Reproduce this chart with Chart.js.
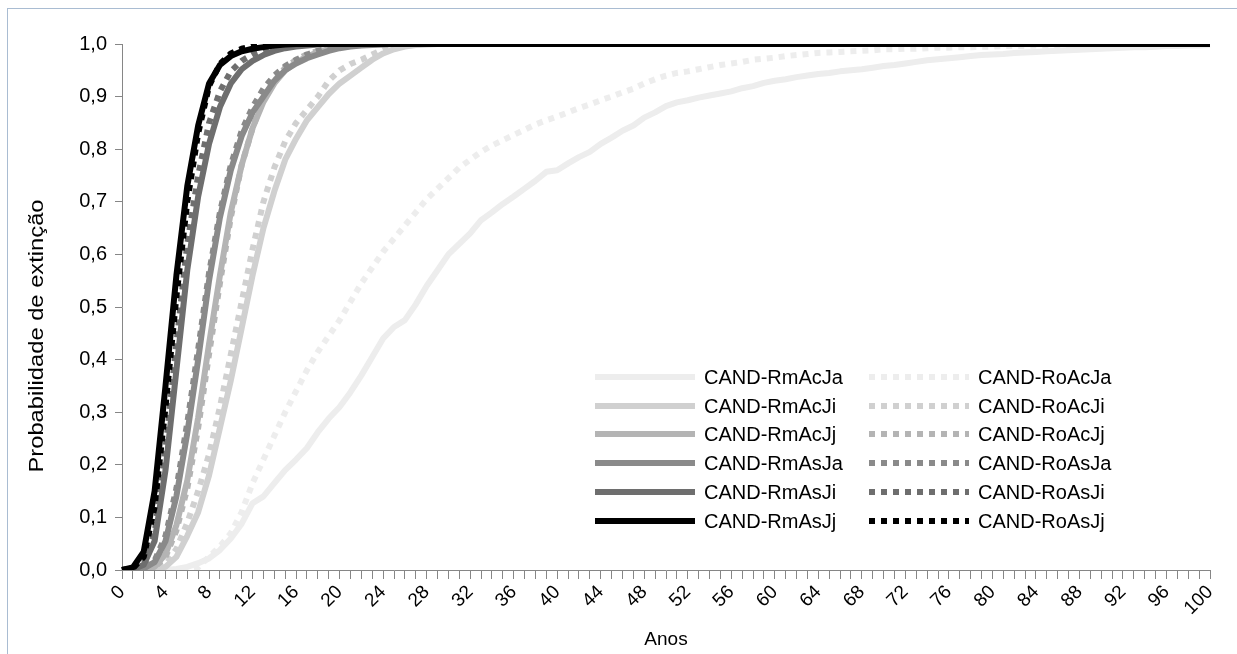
<!DOCTYPE html>
<html>
<head>
<meta charset="utf-8">
<script src="https://cdn.jsdelivr.net/npm/chart.js@4.4.1/dist/chart.umd.min.js"></script>
<style>
  html, body { margin: 0; padding: 0; background: #ffffff; }
  #wrap { position: relative; width: 1237px; height: 654px; }
</style>
</head>
<body>
<div id="wrap"><canvas id="chart" width="1237" height="654"></canvas></div>
<script>
// Years on the horizontal axis (0..100)
const years = [
  0, 1, 2, 3, 4, 5, 6, 7, 8, 9,
  10, 11, 12, 13, 14, 15, 16, 17, 18, 19,
  20, 21, 22, 23, 24, 25, 26, 27, 28, 29,
  30, 31, 32, 33, 34, 35, 36, 37, 38, 39,
  40, 41, 42, 43, 44, 45, 46, 47, 48, 49,
  50, 51, 52, 53, 54, 55, 56, 57, 58, 59,
  60, 61, 62, 63, 64, 65, 66, 67, 68, 69,
  70, 71, 72, 73, 74, 75, 76, 77, 78, 79,
  80, 81, 82, 83, 84, 85, 86, 87, 88, 89,
  90, 91, 92, 93, 94, 95, 96, 97, 98, 99,
  100
];

// Years that carry a printed label
const labelledYears = [0, 4, 8, 12, 16, 20, 24, 28, 32, 36, 40, 44, 48, 52, 56, 60, 64, 68, 72, 76, 80, 84, 88, 92, 96, 100];

// Axis titles
const xTitle = 'Anos';
const yTitle = 'Probabilidade de extinção';

// Cumulative extinction probability per scenario
const rmAcJa = [
  0, 0, 0, 0, 0, 0.002, 0.006, 0.013, 0.022, 0.038,
  0.06, 0.088, 0.127, 0.14, 0.165, 0.19, 0.21, 0.232, 0.262, 0.288,
  0.31, 0.338, 0.37, 0.405, 0.44, 0.462, 0.475, 0.505, 0.54, 0.57,
  0.6, 0.62, 0.64, 0.665, 0.68, 0.696, 0.71, 0.725, 0.74, 0.757,
  0.76, 0.773, 0.785, 0.795, 0.81, 0.822, 0.835, 0.845, 0.86, 0.87,
  0.882, 0.889, 0.893, 0.898, 0.902, 0.906, 0.91, 0.916, 0.92, 0.926,
  0.93, 0.933, 0.937, 0.94, 0.943, 0.945, 0.948, 0.95, 0.952, 0.955,
  0.958, 0.96, 0.963, 0.966, 0.969, 0.971, 0.973, 0.975, 0.977, 0.979,
  0.98, 0.981, 0.983, 0.984, 0.985, 0.986, 0.987, 0.988, 0.989, 0.99,
  0.991, 0.992, 0.993, 0.994, 0.994, 0.995, 0.996, 0.996, 0.997, 0.997,
  0.998
];
const roAcJa = [
  0, 0, 0, 0, 0, 0, 0, 0.005, 0.025, 0.045,
  0.07, 0.11, 0.165, 0.21, 0.255, 0.3, 0.34, 0.38, 0.415, 0.445,
  0.475, 0.51, 0.545, 0.575, 0.605, 0.63, 0.655, 0.68, 0.705, 0.725,
  0.745, 0.765, 0.78, 0.795, 0.807, 0.817, 0.827, 0.837, 0.847, 0.855,
  0.862, 0.87, 0.878, 0.885, 0.893, 0.9, 0.908, 0.915, 0.925, 0.933,
  0.94, 0.945, 0.948, 0.952, 0.956, 0.96, 0.963, 0.966, 0.97, 0.972,
  0.974, 0.977, 0.979, 0.981, 0.983, 0.984, 0.985, 0.986, 0.987, 0.988,
  0.99, 0.99, 0.991, 0.991, 0.992, 0.993, 0.993, 0.994, 0.994, 0.995,
  0.995, 0.996, 0.996, 0.996, 0.997, 0.997, 0.998, 0.998, 0.998, 0.999,
  0.999, 0.999, 0.999, 1, 1, 1, 1, 1, 1, 1,
  1
];
const rmAcJi = [
  0, 0, 0, 0.002, 0.006, 0.025, 0.065, 0.11, 0.18, 0.27,
  0.36, 0.46, 0.56, 0.65, 0.72, 0.78, 0.82, 0.855, 0.88, 0.905,
  0.925, 0.94, 0.955, 0.97, 0.982, 0.99, 0.995, 0.998, 0.999, 1,
  1, 1, 1, 1, 1, 1, 1, 1, 1, 1,
  1, 1, 1, 1, 1, 1, 1, 1, 1, 1,
  1, 1, 1, 1, 1, 1, 1, 1, 1, 1,
  1, 1, 1, 1, 1, 1, 1, 1, 1, 1,
  1, 1, 1, 1, 1, 1, 1, 1, 1, 1,
  1, 1, 1, 1, 1, 1, 1, 1, 1, 1,
  1, 1, 1, 1, 1, 1, 1, 1, 1, 1,
  1
];
const roAcJi = [
  0, 0, 0, 0.003, 0.01, 0.04, 0.09, 0.15, 0.22, 0.31,
  0.41, 0.51, 0.61, 0.7, 0.765, 0.815, 0.85, 0.875, 0.9, 0.93,
  0.95, 0.962, 0.97, 0.98, 0.99, 0.995, 0.998, 0.999, 1, 1,
  1, 1, 1, 1, 1, 1, 1, 1, 1, 1,
  1, 1, 1, 1, 1, 1, 1, 1, 1, 1,
  1, 1, 1, 1, 1, 1, 1, 1, 1, 1,
  1, 1, 1, 1, 1, 1, 1, 1, 1, 1,
  1, 1, 1, 1, 1, 1, 1, 1, 1, 1,
  1, 1, 1, 1, 1, 1, 1, 1, 1, 1,
  1, 1, 1, 1, 1, 1, 1, 1, 1, 1,
  1
];
const rmAcJj = [
  0, 0, 0.001, 0.006, 0.03, 0.085, 0.17, 0.29, 0.43, 0.56,
  0.68, 0.77, 0.84, 0.89, 0.925, 0.95, 0.965, 0.976, 0.984, 0.99,
  0.994, 0.996, 0.998, 0.999, 1, 1, 1, 1, 1, 1,
  1, 1, 1, 1, 1, 1, 1, 1, 1, 1,
  1, 1, 1, 1, 1, 1, 1, 1, 1, 1,
  1, 1, 1, 1, 1, 1, 1, 1, 1, 1,
  1, 1, 1, 1, 1, 1, 1, 1, 1, 1,
  1, 1, 1, 1, 1, 1, 1, 1, 1, 1,
  1, 1, 1, 1, 1, 1, 1, 1, 1, 1,
  1, 1, 1, 1, 1, 1, 1, 1, 1, 1,
  1
];
const roAcJj = [
  0, 0, 0.001, 0.005, 0.025, 0.075, 0.155, 0.27, 0.41, 0.545,
  0.67, 0.77, 0.84, 0.895, 0.93, 0.955, 0.97, 0.98, 0.987, 0.992,
  0.995, 0.997, 0.999, 1, 1, 1, 1, 1, 1, 1,
  1, 1, 1, 1, 1, 1, 1, 1, 1, 1,
  1, 1, 1, 1, 1, 1, 1, 1, 1, 1,
  1, 1, 1, 1, 1, 1, 1, 1, 1, 1,
  1, 1, 1, 1, 1, 1, 1, 1, 1, 1,
  1, 1, 1, 1, 1, 1, 1, 1, 1, 1,
  1, 1, 1, 1, 1, 1, 1, 1, 1, 1,
  1, 1, 1, 1, 1, 1, 1, 1, 1, 1,
  1
];
const rmAsJa = [
  0, 0, 0.003, 0.015, 0.055, 0.14, 0.26, 0.4, 0.55, 0.67,
  0.76, 0.825, 0.87, 0.9, 0.93, 0.95, 0.963, 0.973, 0.98, 0.987,
  0.992, 0.995, 0.997, 0.998, 0.999, 1, 1, 1, 1, 1,
  1, 1, 1, 1, 1, 1, 1, 1, 1, 1,
  1, 1, 1, 1, 1, 1, 1, 1, 1, 1,
  1, 1, 1, 1, 1, 1, 1, 1, 1, 1,
  1, 1, 1, 1, 1, 1, 1, 1, 1, 1,
  1, 1, 1, 1, 1, 1, 1, 1, 1, 1,
  1, 1, 1, 1, 1, 1, 1, 1, 1, 1,
  1, 1, 1, 1, 1, 1, 1, 1, 1, 1,
  1
];
const roAsJa = [
  0, 0, 0.004, 0.018, 0.065, 0.155, 0.28, 0.42, 0.565, 0.68,
  0.77, 0.835, 0.88, 0.915, 0.94, 0.958, 0.97, 0.98, 0.987, 0.992,
  0.995, 0.997, 0.999, 1, 1, 1, 1, 1, 1, 1,
  1, 1, 1, 1, 1, 1, 1, 1, 1, 1,
  1, 1, 1, 1, 1, 1, 1, 1, 1, 1,
  1, 1, 1, 1, 1, 1, 1, 1, 1, 1,
  1, 1, 1, 1, 1, 1, 1, 1, 1, 1,
  1, 1, 1, 1, 1, 1, 1, 1, 1, 1,
  1, 1, 1, 1, 1, 1, 1, 1, 1, 1,
  1, 1, 1, 1, 1, 1, 1, 1, 1, 1,
  1
];
const rmAsJi = [
  0, 0.001, 0.01, 0.055, 0.19, 0.38, 0.57, 0.71, 0.81, 0.88,
  0.925, 0.952, 0.968, 0.979, 0.987, 0.992, 0.995, 0.997, 0.999, 1,
  1, 1, 1, 1, 1, 1, 1, 1, 1, 1,
  1, 1, 1, 1, 1, 1, 1, 1, 1, 1,
  1, 1, 1, 1, 1, 1, 1, 1, 1, 1,
  1, 1, 1, 1, 1, 1, 1, 1, 1, 1,
  1, 1, 1, 1, 1, 1, 1, 1, 1, 1,
  1, 1, 1, 1, 1, 1, 1, 1, 1, 1,
  1, 1, 1, 1, 1, 1, 1, 1, 1, 1,
  1, 1, 1, 1, 1, 1, 1, 1, 1, 1,
  1
];
const roAsJi = [
  0, 0.002, 0.014, 0.07, 0.23, 0.43, 0.62, 0.75, 0.85, 0.91,
  0.948, 0.968, 0.98, 0.988, 0.993, 0.996, 0.998, 0.999, 1, 1,
  1, 1, 1, 1, 1, 1, 1, 1, 1, 1,
  1, 1, 1, 1, 1, 1, 1, 1, 1, 1,
  1, 1, 1, 1, 1, 1, 1, 1, 1, 1,
  1, 1, 1, 1, 1, 1, 1, 1, 1, 1,
  1, 1, 1, 1, 1, 1, 1, 1, 1, 1,
  1, 1, 1, 1, 1, 1, 1, 1, 1, 1,
  1, 1, 1, 1, 1, 1, 1, 1, 1, 1,
  1, 1, 1, 1, 1, 1, 1, 1, 1, 1,
  1
];
const rmAsJj = [
  0, 0.005, 0.035, 0.15, 0.35, 0.56, 0.73, 0.845, 0.925, 0.96,
  0.977, 0.986, 0.991, 0.994, 0.997, 0.999, 1, 1, 1, 1,
  1, 1, 1, 1, 1, 1, 1, 1, 1, 1,
  1, 1, 1, 1, 1, 1, 1, 1, 1, 1,
  1, 1, 1, 1, 1, 1, 1, 1, 1, 1,
  1, 1, 1, 1, 1, 1, 1, 1, 1, 1,
  1, 1, 1, 1, 1, 1, 1, 1, 1, 1,
  1, 1, 1, 1, 1, 1, 1, 1, 1, 1,
  1, 1, 1, 1, 1, 1, 1, 1, 1, 1,
  1, 1, 1, 1, 1, 1, 1, 1, 1, 1,
  1
];
const roAsJj = [
  0, 0.003, 0.025, 0.12, 0.31, 0.52, 0.7, 0.83, 0.92, 0.962,
  0.982, 0.991, 0.996, 0.998, 0.999, 1, 1, 1, 1, 1,
  1, 1, 1, 1, 1, 1, 1, 1, 1, 1,
  1, 1, 1, 1, 1, 1, 1, 1, 1, 1,
  1, 1, 1, 1, 1, 1, 1, 1, 1, 1,
  1, 1, 1, 1, 1, 1, 1, 1, 1, 1,
  1, 1, 1, 1, 1, 1, 1, 1, 1, 1,
  1, 1, 1, 1, 1, 1, 1, 1, 1, 1,
  1, 1, 1, 1, 1, 1, 1, 1, 1, 1,
  1, 1, 1, 1, 1, 1, 1, 1, 1, 1,
  1
];

// Scenario names in legend order (row by row: Rm left, Ro right)
const seriesNames = [
  'CAND-RmAcJa', 'CAND-RoAcJa',
  'CAND-RmAcJi', 'CAND-RoAcJi',
  'CAND-RmAcJj', 'CAND-RoAcJj',
  'CAND-RmAsJa', 'CAND-RoAsJa',
  'CAND-RmAsJi', 'CAND-RoAsJi',
  'CAND-RmAsJj', 'CAND-RoAsJj'
];
const seriesValues = [rmAcJa, roAcJa, rmAcJi, roAcJi, rmAcJj, roAcJj, rmAsJa, roAsJa, rmAsJi, roAsJi, rmAsJj, roAsJj];

// Grey ramp, one shade per scenario pair
const shades = ['#ededed', '#d0d0d0', '#b4b4b4', '#8a8a8a', '#6e6e6e', '#000000'];
const LINE_W = 6;

const datasets = seriesNames.map((name, i) => {
  const dotted = i % 2 === 1;
  return {
    label: name,
    data: seriesValues[i],
    borderColor: shades[Math.floor(i / 2)],
    backgroundColor: shades[Math.floor(i / 2)],
    borderWidth: LINE_W,
    borderDash: dotted ? [LINE_W, LINE_W] : [],
    borderCapStyle: 'butt',
    borderJoinStyle: 'round',
    pointRadius: 0,
    pointHoverRadius: 0,
    tension: 0,
    fill: false,
    // later series are painted over earlier ones
    order: seriesNames.length - i
  };
});

const FONT = 'Liberation Sans, Arial, sans-serif';
const TEXT = '#000000';
const AXIS = '#868686';

// Outer frame, vertical axis title and the two-column legend inside the plot
const decorations = {
  id: 'decorations',
  beforeDraw(chart) {
    const ctx = chart.ctx;
    ctx.save();
    ctx.fillStyle = '#ffffff';
    ctx.fillRect(0, 0, chart.width, chart.height);
    ctx.strokeStyle = '#a9bcd2';
    ctx.lineWidth = 1;
    ctx.strokeRect(7.5, 8.5, chart.width + 10, chart.height + 10);
    ctx.restore();
  },
  afterDraw(chart) {
    const ctx = chart.ctx;
    ctx.save();
    ctx.translate(37, 336);
    ctx.rotate(-Math.PI / 2);
    ctx.scale(1.13, 1);
    ctx.font = '21px ' + FONT;
    ctx.fillStyle = TEXT;
    ctx.textAlign = 'center';
    ctx.textBaseline = 'middle';
    ctx.fillText(yTitle, 0, 0);
    ctx.restore();
  },
  afterDatasetsDraw(chart) {
    const ctx = chart.ctx;
    const cols = [{ x0: 595, x1: 695, tx: 704 }, { x0: 869, x1: 969, tx: 978 }];
    const rowY0 = 377, rowStep = 28.7;
    ctx.save();
    ctx.font = '20px ' + FONT;
    ctx.textBaseline = 'middle';
    ctx.textAlign = 'left';
    chart.data.datasets.forEach((ds, i) => {
      const col = cols[i % 2];
      const y = Math.round(rowY0 + Math.floor(i / 2) * rowStep);
      ctx.beginPath();
      ctx.strokeStyle = ds.borderColor;
      ctx.lineWidth = ds.borderWidth;
      ctx.lineCap = 'butt';
      ctx.setLineDash(ds.borderDash);
      ctx.moveTo(col.x0, y);
      ctx.lineTo(col.x1, y);
      ctx.stroke();
      ctx.setLineDash([]);
      ctx.fillStyle = TEXT;
      ctx.fillText(ds.label, col.tx, y + 1);
    });
    ctx.restore();
  }
};

new Chart(document.getElementById('chart'), {
  type: 'line',
  data: { labels: years, datasets },
  plugins: [decorations],
  options: {
    responsive: false,
    animation: false,
    events: [],
    layout: { padding: { left: 0, right: 27, top: 44, bottom: 0 } },
    plugins: {
      legend: { display: false },
      tooltip: { enabled: false },
      title: { display: false }
    },
    scales: {
      x: {
        type: 'category',
        offset: false,
        afterFit(scale) { scale.height = 84; },
        border: { display: true, color: AXIS, width: 1 },
        grid: { display: true, drawOnChartArea: false, drawTicks: true, tickLength: 9, color: AXIS, tickColor: AXIS },
        ticks: {
          autoSkip: false,
          minRotation: 45,
          maxRotation: 45,
          padding: 2,
          color: TEXT,
          font: { family: FONT, size: 19 },
          callback(value) {
            const yr = years[value];
            return labelledYears.includes(yr) ? String(yr) : '';
          }
        },
        title: {
          display: true,
          text: xTitle,
          color: TEXT,
          font: { family: FONT, size: 19 },
          padding: { top: 0, bottom: 3 }
        }
      },
      y: {
        type: 'linear',
        min: 0,
        max: 1,
        afterFit(scale) { scale.width = 122; },
        border: { display: true, color: AXIS, width: 1 },
        grid: { display: true, drawOnChartArea: false, drawTicks: true, tickLength: 7, color: AXIS, tickColor: AXIS },
        ticks: {
          stepSize: 0.1,
          padding: 8,
          color: TEXT,
          font: { family: FONT, size: 20 },
          callback(value) { return value.toFixed(1).replace('.', ','); }
        },
        title: { display: false }
      }
    }
  }
});
</script>
</body>
</html>
